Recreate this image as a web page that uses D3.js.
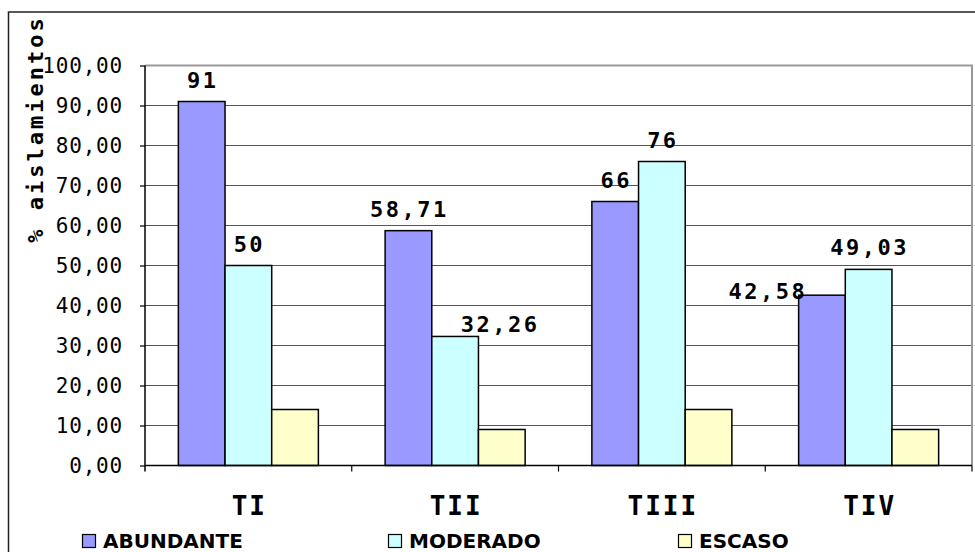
<!DOCTYPE html>
<html>
<head>
<meta charset="utf-8">
<script src="https://cdn.jsdelivr.net/npm/d3@7"></script>
<style>
  body { margin: 0; background: #fff; }
  svg { display: block; }
</style>
</head>
<body>
<svg id="chart" width="975" height="552"></svg>
<script>
// chart data
var categories = ["TI", "TII", "TIII", "TIV"];
var seriesNames = ["ABUNDANTE", "MODERADO", "ESCASO"];
var abundante = [91, 58.71, 66, 42.58];
var moderado = [50, 32.26, 76, 49.03];
var escaso = [14, 9, 14, 9];
var yTicks = [0, 10, 20, 30, 40, 50, 60, 70, 80, 90, 100];
var yTitle = "% aislamientos";

var seriesValues = [abundante, moderado, escaso];
var seriesColors = ["#9999ff", "#ccffff", "#ffffcc"];
// only the first two series carry value labels
var labelled = [true, true, false];
// labels Excel moved off-centre to avoid overlapping
var labelNudge = { "1-1": [44, 10], "3-0": [-55, 18] };

var locale = d3.formatLocale({ decimal: ",", thousands: ".", grouping: [3], currency: ["", ""] });
var fmtTick = locale.format(".2f");
function fmtValue(v) {
  return Number.isInteger(v) ? String(v) : locale.format(".2f")(v);
}

var svg = d3.select("#chart");
var plot = { left: 145, right: 972, top: 65.5, bottom: 465.5 };

// outer frame
svg.append("rect")
  .attr("x", 8.5).attr("y", 12)
  .attr("width", 1000).attr("height", 600)
  .attr("fill", "none").attr("stroke", "#222").attr("stroke-width", 1.5);

var x0 = d3.scaleBand().domain(categories).range([plot.left, plot.right]).padding(0);
var x1 = d3.scaleBand().domain(seriesNames).range([0, x0.bandwidth()])
  .paddingInner(0).paddingOuter(0.715);
var y = d3.scaleLinear().domain([0, 100]).range([plot.bottom, plot.top]);

// gridlines
svg.append("g").selectAll("line")
  .data(yTicks.filter(function(t) { return t > 0 && t < 100; }))
  .join("line")
  .attr("x1", plot.left).attr("x2", plot.right)
  .attr("y1", function(d) { return y(d); }).attr("y2", function(d) { return y(d); })
  .attr("stroke", "#555").attr("stroke-width", 1.2);

// plot area top and right border
svg.append("path")
  .attr("d", "M" + plot.left + "," + plot.top + "H" + plot.right + "V" + plot.bottom)
  .attr("fill", "none").attr("stroke", "#999").attr("stroke-width", 2);

// bars
var groups = svg.append("g").selectAll("g")
  .data(categories)
  .join("g")
  .attr("transform", function(c) { return "translate(" + x0(c) + ",0)"; });

groups.selectAll("rect")
  .data(function(c, ci) {
    return seriesNames.map(function(s, si) { return { s: s, si: si, v: seriesValues[si][ci] }; });
  })
  .join("rect")
  .attr("x", function(d) { return x1(d.s); })
  .attr("y", function(d) { return y(d.v); })
  .attr("width", x1.bandwidth())
  .attr("height", function(d) { return y(0) - y(d.v); })
  .attr("fill", function(d) { return seriesColors[d.si]; })
  .attr("stroke", "#000").attr("stroke-width", 1.5);

// value labels
categories.forEach(function(c, ci) {
  seriesNames.forEach(function(s, si) {
    if (!labelled[si]) return;
    var v = seriesValues[si][ci];
    var nudge = labelNudge[ci + "-" + si] || [0, 0];
    svg.append("text")
      .attr("x", x0(c) + x1(s) + x1.bandwidth() / 2 + nudge[0] + 1)
      .attr("y", y(v) - 14 + nudge[1])
      .attr("text-anchor", "middle")
      .attr("font-family", "DejaVu Sans Mono")
      .attr("font-weight", "bold")
      .attr("font-size", 22)
      .attr("letter-spacing", 2.5)
      .attr("fill", "#000")
      .text(fmtValue(v));
  });
});

// y axis
var yAxis = svg.append("g")
  .attr("transform", "translate(" + plot.left + ",0)")
  .call(d3.axisLeft(y).tickValues(yTicks).tickSize(5).tickPadding(17).tickFormat(fmtTick));
yAxis.select(".domain").attr("stroke", "#000").attr("stroke-width", 1.5)
  .attr("d", "M0," + plot.top + "V" + (plot.bottom + 6));
yAxis.selectAll(".tick line").attr("stroke", "#000").attr("stroke-width", 1.2);
yAxis.selectAll(".tick text")
  .attr("font-family", "DejaVu Sans Mono")
  .attr("font-size", 21)
  .attr("letter-spacing", 0.8)
  .attr("fill", "#000");

// x axis
svg.append("line")
  .attr("x1", plot.left).attr("x2", plot.right)
  .attr("y1", plot.bottom).attr("y2", plot.bottom)
  .attr("stroke", "#000").attr("stroke-width", 1.5);
var boundaries = categories.map(function(c) { return x0(c); }).concat([x0(categories[categories.length - 1]) + x0.bandwidth()]);
svg.append("g").selectAll("line")
  .data(boundaries.slice(1))
  .join("line")
  .attr("x1", function(d) { return d; }).attr("x2", function(d) { return d; })
  .attr("y1", plot.bottom).attr("y2", plot.bottom + 6)
  .attr("stroke", "#000").attr("stroke-width", 1.2);

svg.append("g").selectAll("text")
  .data(categories)
  .join("text")
  .attr("x", function(c) { return x0(c) + x0.bandwidth() / 2 + 1; })
  .attr("y", 515)
  .attr("text-anchor", "middle")
  .attr("font-family", "DejaVu Sans Mono")
  .attr("font-weight", "bold")
  .attr("font-size", 26)
  .attr("letter-spacing", 2)
  .attr("fill", "#000")
  .text(function(c) { return c; });

// y title
svg.append("text")
  .attr("transform", "translate(43,129) rotate(-90)")
  .attr("text-anchor", "middle")
  .attr("font-family", "DejaVu Sans Mono")
  .attr("font-weight", "bold")
  .attr("font-size", 22)
  .attr("letter-spacing", 3)
  .attr("fill", "#000")
  .text(yTitle);

// legend
var legendX = [82, 388, 678];
var legend = svg.append("g").selectAll("g")
  .data(seriesNames)
  .join("g")
  .attr("transform", function(d, i) { return "translate(" + legendX[i] + ",534)"; });
legend.append("rect")
  .attr("x", 0.5).attr("y", 0.5).attr("width", 13).attr("height", 13)
  .attr("fill", function(d, i) { return seriesColors[i]; })
  .attr("stroke", "#000").attr("stroke-width", 1.2);
legend.append("text")
  .attr("x", 21).attr("y", 14)
  .attr("font-family", "DejaVu Sans")
  .attr("font-weight", "bold")
  .attr("font-size", 20)
  .attr("fill", "#000")
  .text(function(d) { return d; });
</script>
</body>
</html>
